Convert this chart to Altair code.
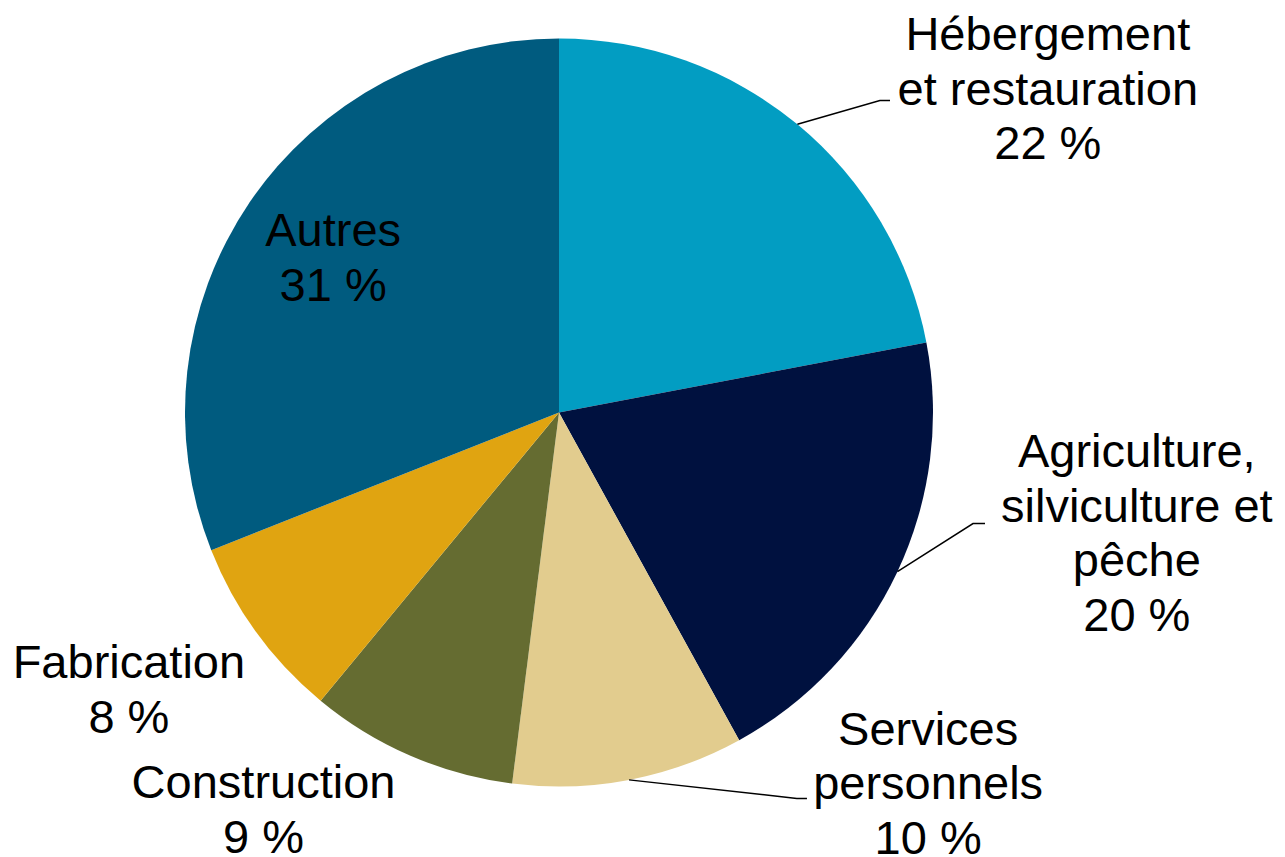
import math
import altair as alt
import pandas as pd

# ---- data ----
names = ["Hébergement et restauration", "Agriculture, silviculture et pêche",
         "Services personnels", "Construction", "Fabrication", "Autres"]
label_lines = ["Hébergement\net restauration", "Agriculture,\nsilviculture et\npêche",
               "Services\npersonnels", "Construction", "Fabrication", "Autres"]
values = [22, 20, 10, 9, 8, 31]
colors = ["#029DC2", "#00113F", "#E2CC8E", "#656C31", "#E0A411", "#005B7F"]

# ---- layout (in pie-radius units, origin at the pie centre, y up) ----
R_PX = 374
label_pos = [(1.307, 0.969), (1.545, -0.146), (0.987, -0.889),
             (-0.790, -1.031), (-1.150, -0.710), (-0.604, 0.445)]
# leader lines: (elbow, end) for the labels that have one
leaders = {0: ((0.858, 0.834), (0.885, 0.834)),
           1: ((1.107, -0.297), (1.139, -0.297)),
           2: ((0.636, -1.032), (0.663, -1.032))}

W, H = 1269, 841
cx_px, cy_px = 551, 404.5
xdom = [-cx_px / R_PX, (W - cx_px) / R_PX]
ydom = [-(H - cy_px) / R_PX, cy_px / R_PX]
xs = alt.Scale(domain=xdom, nice=False, zero=False)
ys = alt.Scale(domain=ydom, nice=False, zero=False)

df = pd.DataFrame({"name": names, "v": values, "o": list(range(len(names)))})

total = sum(values)
cum = 0
mids = []
for v in values:
    mids.append((cum + v / 2) / total * 2 * math.pi)
    cum += v

lab = pd.DataFrame({
    "name": names,
    "text": [f"{l}\n{v} %" for l, v in zip(label_lines, values)],
    "x": [p[0] for p in label_pos],
    "y": [p[1] for p in label_pos],
})

rows = []
for i, (elbow, end) in leaders.items():
    a = mids[i]
    pts = [(math.sin(a), math.cos(a)), elbow, end]
    for k, (px, py) in enumerate(pts):
        rows.append({"name": names[i], "k": k, "x": px, "y": py})
lines = pd.DataFrame(rows)

pie = alt.Chart(df).mark_arc(outerRadius=R_PX).encode(
    theta=alt.Theta("v:Q", stack=True),
    order=alt.Order("o:Q"),
    color=alt.Color("name:N", scale=alt.Scale(domain=names, range=colors), legend=None),
    x=alt.X(datum=0, type="quantitative", scale=xs, axis=None),
    y=alt.Y(datum=0, type="quantitative", scale=ys, axis=None),
)

lead = alt.Chart(lines).mark_line(color="black", strokeWidth=1.5).encode(
    x=alt.X("x:Q", scale=xs, axis=None),
    y=alt.Y("y:Q", scale=ys, axis=None),
    detail="name:N",
    order="k:Q",
)

text = alt.Chart(lab).mark_text(
    font="Liberation Sans", fontSize=47, lineHeight=54.5, align="center",
    baseline="alphabetic", lineBreak="\n", color="black",
).encode(
    x=alt.X("x:Q", scale=xs, axis=None),
    y=alt.Y("y:Q", scale=ys, axis=None),
    text="text:N",
)

chart = alt.layer(pie, lead, text).properties(
    width=W, height=H, padding=0,
    autosize=alt.AutoSizeParams(type="pad"),
    background="white",
).configure_view(stroke=None)

chart.save("out.html", embed_options={"renderer": "svg", "actions": False})
